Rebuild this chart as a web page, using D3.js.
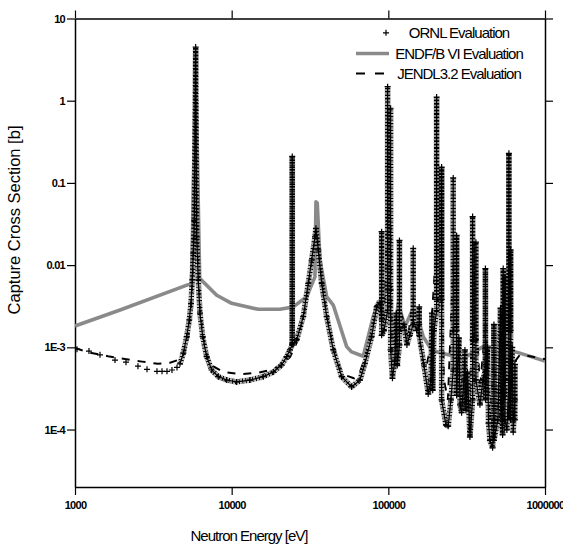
<!DOCTYPE html>
<html>
<head>
<meta charset="utf-8">
<script src="https://cdn.jsdelivr.net/npm/d3@7"></script>
<style>
  body { margin: 0; background: #fff; }
  svg { display: block; font-family: Arial, 'Liberation Sans', sans-serif; }
</style>
</head>
<body>
<svg id="chart" width="563" height="546"></svg>
<script>
const xTickValues = [1000, 10000, 100000, 1000000];  // Major energy ticks [eV].
const yTickValues = [10, 1, 0.1, 0.01, 1e-3, 1e-4];  // Major cross section ticks [b].
const yTickLabels = ['10', '1', '0.1', '0.01', '1E-3', '1E-4'];
const legendLabels = ['ORNL Evaluation', 'ENDF/B VI Evaluation', 'JENDL3.2 Evaluation'];

// ORNL points below the first resonance, shown as separate markers [E eV, xs b].
const ornlSparse = [[1030, 9.5e-4], [1228, 9.0e-4], [1444, 8.1e-4], [1800, 7.0e-4], [2116, 6.6e-4],
    [2523, 5.9e-4], [2881, 5.4e-4], [3337, 5.1e-4], [3592, 5.1e-4], [3865, 5.1e-4], [4159, 5.3e-4], [4477, 5.7e-4]];

// ORNL dense pointwise data, in energy order (resonance columns go up and back down).
const ornlTrace = [
    [4678, 6.3e-4], [4912, 8.5e-4], [5163, 1.35e-3], [5364, 2.15e-3], [5500, 3.4e-3], [5606, 6.6e-3],
    [5688, 0.014], [5772, 0.035], [5892, 4.5], [5980, 0.022], [6122, 6.6e-3], [6277, 2.6e-3],
    [6530, 1.35e-3], [6925, 7.7e-4], [7455, 5.3e-4], [8213, 4.4e-4], [9292, 4.0e-4], [10760, 3.8e-4],
    [13090, 4.0e-4], [15910, 4.4e-4], [18430, 5.0e-4], [20850, 6.1e-4], [22440, 7.7e-4], [23560, 9.3e-4],
    [24360, 1.07e-3], [24360, 0.21], [24360, 1.1e-3],
    [25990, 1.23e-3], [28640, 2.36e-3], [30830, 6.0e-3], [32400, 0.0115], [34010, 0.022], [34510, 0.028],
    [35710, 0.0153], [37540, 6.0e-3], [40400, 2.36e-3], [44510, 9.3e-4], [50350, 4.4e-4], [58320, 3.3e-4],
    [65910, 4.0e-4], [70920, 6.4e-4], [78250, 1.35e-3], [84220, 3.1e-3], [88410, 3.5e-3],
    [90640, 2.15e-3], [90640, 0.0255], [90640, 1.4e-3], [93760, 1.6e-3],
    [98970, 2.8e-3], [98970, 1.48], [98970, 5.0e-3],
    [103440, 5.0e-3], [103440, 0.81], [103440, 9.3e-4],
    [106220, 4.2e-4], [110180, 7.0e-4], [112500, 2.6e-3], [114000, 6.0e-4],
    [117730, 1.07e-3], [117730, 0.020], [117730, 1.6e-3],
    [125800, 1.9e-3], [131450, 1.07e-3], [137000, 1.4e-3],
    [144140, 1.9e-3], [144140, 0.016], [144140, 2.15e-3],
    [151530, 1.6e-3], [157450, 1.9e-3], [157450, 3.1e-3], [157450, 1.4e-3],
    [168720, 6.1e-4], [179720, 2.7e-4], [187000, 4.0e-4], [189750, 2.6e-3], [192000, 3.0e-4], [195400, 1.6e-3],
    [203340, 2.8e-3], [203340, 1.11], [203340, 3.8e-3],
    [218840, 3.8e-3], [218840, 0.156], [218840, 2.3e-4],
    [233110, 1.14e-4], [241110, 1.1e-4], [250890, 2.3e-4],
    [259500, 5.3e-4], [259500, 0.115], [259500, 1.6e-3],
    [272800, 1.6e-3], [272800, 0.023], [272800, 2.6e-4],
    [282000, 1.3e-3], [287000, 2.0e-4],
    [293600, 1.6e-4], [304000, 4.0e-4], [308200, 9.3e-4], [312800, 1.7e-4], [320000, 5.0e-4], [331700, 8.1e-5],
    [345150, 2.3e-4], [345150, 0.039], [345150, 1.23e-3],
    [362300, 1.23e-3], [362300, 0.019], [362300, 4.0e-4],
    [384300, 2.0e-4], [401700, 4.0e-4],
    [416600, 5.3e-4], [416600, 9.1e-3], [416600, 2.3e-4],
    [430000, 1.0e-3], [436000, 1.2e-4],
    [445100, 7.4e-5], [463100, 6.0e-5],
    [472000, 1.31e-4], [472000, 1.9e-3], [472000, 7.4e-5],
    [500600, 1.31e-4], [520000, 3.0e-3], [528000, 1.5e-4], [536300, 8.6e-5],
    [541000, 9.1e-3], [541000, 2.3e-4],
    [554800, 4.0e-4], [554800, 7.2e-3], [554800, 1.31e-4], [571000, 9.9e-5],
    [588300, 4.0e-4], [588300, 0.229], [588300, 1.6e-3],
    [603200, 1.6e-3], [603200, 0.0153], [603200, 1.31e-4], [618000, 1.0e-3], [626700, 9.3e-5],
    [642500, 2.3e-4], [642500, 6.2e-4], [642500, 1.31e-4]
];

// ENDF/B VI evaluation [E eV, xs b].
const endf = [[1000, 1.82e-3], [1940, 2.84e-3], [5550, 6.0e-3], [5890, 3.0], [6250, 6.9e-3], [8030, 4.3e-3],
    [10000, 3.43e-3], [14800, 2.9e-3], [20330, 2.9e-3], [24700, 3.1e-3], [30100, 4.13e-3], [34010, 7.2e-3],
    [34510, 0.059], [35180, 0.057], [36610, 0.0115], [40400, 4.13e-3], [44510, 3.27e-3], [54190, 1.02e-3],
    [58320, 8.8e-4], [69160, 7.8e-4], [80120, 2.36e-3], [86220, 3.6e-3], [92390, 3.76e-3], [99860, 6.2e-3],
    [107480, 1.12e-3], [115680, 3.43e-3], [127640, 1.78e-3], [140800, 2.71e-3], [151530, 2.63e-3],
    [166990, 1.35e-3], [188930, 9.3e-4], [213450, 8.6e-4], [300600, 7.35e-4], [403400, 1.02e-3],
    [515500, 9.9e-4], [691500, 8.5e-4], [1000000, 6.8e-4]];

// JENDL-3.2 evaluation [E eV, xs b].
const jendl = [[1000, 9.8e-4], [1247, 8.6e-4], [1624, 7.8e-4], [2085, 7.2e-4], [2677, 6.7e-4], [3386, 6.3e-4],
    [4040, 6.5e-4], [4543, 7.0e-4], [4963, 8.3e-4], [5262, 1.23e-3], [5500, 2.84e-3], [5663, 8.7e-3],
    [5832, 0.58], [5892, 4.1], [5963, 0.25], [6095, 0.0115], [6277, 3.3e-3], [6558, 1.41e-3], [6955, 8.1e-4],
    [7600, 5.9e-4], [8800, 5.05e-4], [11300, 4.7e-4], [14720, 4.9e-4], [17560, 5.3e-4], [20330, 5.9e-4],
    [23560, 7.6e-4], [26490, 1.23e-3], [29370, 2.84e-3], [31600, 7.6e-3], [33510, 0.0176], [34510, 0.028],
    [35810, 0.0176], [37700, 6.6e-3], [40570, 2.47e-3], [44320, 1.07e-3], [49110, 5.6e-4], [54430, 4.5e-4],
    [60330, 4.2e-4], [65910, 5.0e-4], [71960, 8.1e-4], [78600, 1.62e-3], [84580, 3.0e-3], [90640, 3.5e-3],
    [93760, 2.0e-3], [98970, 0.05], [100880, 3.0e-3], [103440, 0.03], [105440, 7.0e-4], [110180, 6.1e-4],
    [117730, 3.0e-3], [125800, 2.0e-3], [133400, 1.3e-3], [144140, 4.0e-3], [154460, 1.6e-3],
    [166260, 6.6e-4], [173780, 5.6e-4], [184280, 9.3e-4], [203340, 0.02], [210340, 3.0e-3], [218840, 0.01],
    [226360, 4.0e-4], [240060, 2.3e-4], [259500, 0.01], [272800, 3.0e-3], [290600, 2.3e-4], [312800, 3.0e-4],
    [331700, 1.73e-4], [345150, 5.0e-3], [362300, 3.0e-3], [384300, 3.0e-4], [416600, 2.0e-3],
    [445100, 1.31e-4], [472000, 8.0e-4], [500600, 1.73e-4], [541000, 2.0e-3], [563000, 2.3e-4],
    [588300, 0.01], [605900, 2.0e-3], [633100, 2.3e-4], [652100, 7.0e-4], [691500, 8.1e-4],
    [801000, 7.8e-4], [1000000, 7.2e-4]];

const margin = { left: 75, right: 18, top: 18.5, bottom: 59 };  // Plot frame inside the 563x546 window.
const size = { width: 563, height: 546 };
const plusPath = 'M-3,0H3M0,-3V3';  // ORNL '+' marker.

function initChart() {
    const svg = d3.select('#chart');
    svg.append('rect').attr('width', size.width).attr('height', size.height).attr('fill', '#fff');

    const xScale = d3.scaleLog()
        .domain([1000, 1e6])
        .range([margin.left, size.width - margin.right]);
    const yScale = d3.scaleLog()
        .domain([2e-5, 10])
        .range([size.height - margin.bottom, margin.top]);

    const x0 = margin.left, x1 = size.width - margin.right;
    const y0 = size.height - margin.bottom, y1 = margin.top;

    const xMinor = xScale.ticks().filter(v => !xTickValues.includes(v));
    const yMinor = yScale.ticks().filter(v => !yTickValues.includes(v));

    // helper: draw one side of the frame (minor + major ticks)
    function side(axisFn, scale, majors, minors, transform, labels) {
        const g = svg.append('g').attr('transform', transform);
        g.call(axisFn(scale).tickValues(minors).tickSize(4.5).tickSizeOuter(0).tickFormat(''));
        g.call(axisFn(scale).tickValues(majors).tickSize(8).tickSizeOuter(0)
            .tickFormat(labels ? (d, i) => labels[i] : ''));
        g.selectAll('.domain').attr('stroke', '#000').attr('stroke-width', 1.5);
        g.selectAll('.tick line').attr('stroke', '#000').attr('stroke-width', 1.2);
        return g;
    }

    const xAxis = side(d3.axisBottom, xScale, xTickValues, xMinor, `translate(0,${y0})`, xTickValues.map(String));
    xAxis.selectAll('.tick text')
        .attr('y', 14).attr('dy', '0.71em')
        .attr('font-size', 11).attr('font-weight', 'bold').attr('letter-spacing', '-0.7px')
        .attr('font-family', 'Arial, Liberation Sans, sans-serif').attr('fill', '#000');

    const yAxis = side(d3.axisLeft, yScale, yTickValues, yMinor, `translate(${x0},0)`, yTickLabels);
    yAxis.selectAll('.tick text')
        .attr('x', -10)
        .attr('font-size', 11).attr('font-weight', 'bold').attr('letter-spacing', '-0.7px')
        .attr('font-family', 'Arial, Liberation Sans, sans-serif').attr('fill', '#000');

    side(d3.axisTop, xScale, xTickValues, xMinor, `translate(0,${y1})`, null);
    side(d3.axisRight, yScale, yTickValues, yMinor, `translate(${x1},0)`, null);

    // clip for the data
    svg.append('clipPath').attr('id', 'plot-clip')
        .append('rect').attr('x', x0).attr('y', y1).attr('width', x1 - x0).attr('height', y0 - y1);
    const plot = svg.append('g').attr('clip-path', 'url(#plot-clip)');

    const line = d3.line()
        .x(d => xScale(d[0]))
        .y(d => yScale(d[1]));

    plot.append('path')  // ENDF/B VI, thick grey.
        .datum(endf)
        .attr('d', line)
        .attr('fill', 'none')
        .attr('stroke', '#8a8a8a')
        .attr('stroke-width', 3.6)
        .attr('stroke-linejoin', 'round');

    plot.append('path')  // JENDL-3.2, black dashes.
        .datum(jendl)
        .attr('d', line)
        .attr('fill', 'none')
        .attr('stroke', '#000')
        .attr('stroke-width', 2)
        .attr('stroke-dasharray', '8 8');

    // ORNL dense points: grey fringe, thin trace and short crossing bars = stacked '+' markers
    plot.append('path')
        .datum(ornlTrace)
        .attr('d', line)
        .attr('fill', 'none')
        .attr('stroke', '#999')
        .attr('stroke-width', 5.8)
        .attr('stroke-linejoin', 'bevel')
        .attr('stroke-dasharray', '1.2 2.2')
        .attr('stroke-dashoffset', 1.7);
    plot.append('path')
        .datum(ornlTrace)
        .attr('d', line)
        .attr('fill', 'none')
        .attr('stroke', '#000')
        .attr('stroke-width', 1.2);
    plot.append('path')
        .datum(ornlTrace)
        .attr('d', line)
        .attr('fill', 'none')
        .attr('stroke', '#000')
        .attr('stroke-width', 5.4)
        .attr('stroke-linejoin', 'bevel')
        .attr('stroke-dasharray', '1.2 2.2');

    plot.append('g')
        .selectAll('path')
        .data(ornlSparse.concat(ornlTrace))
        .join('path')
        .attr('d', plusPath)
        .attr('transform', d => `translate(${xScale(d[0])},${yScale(d[1])})`)
        .attr('stroke', '#000')
        .attr('stroke-width', 1.2)
        .attr('fill', 'none');

    // axis titles
    svg.append('text')
        .attr('transform', `translate(20, 220) rotate(-90)`)
        .style('text-anchor', 'middle')
        .style('font-size', '16.5px')
        .text('Capture Cross Section [b]');

    svg.append('text')
        .attr('x', 249).attr('y', 541)
        .style('text-anchor', 'middle')
        .style('font-size', '15px')
        .style('letter-spacing', '-1px')
        .text('Neutron Energy [eV]');

    // legend
    const legend = svg.append('g');
    const rowY = [32.8, 53.5, 73.5];
    legend.append('path').attr('d', plusPath)
        .attr('transform', `translate(386,${rowY[0]})`)
        .attr('stroke', '#000').attr('stroke-width', 1.2);
    legend.append('line')
        .attr('x1', 356).attr('x2', 389).attr('y1', rowY[1]).attr('y2', rowY[1])
        .attr('stroke', '#8a8a8a').attr('stroke-width', 3.6);
    legend.append('line')
        .attr('x1', 356).attr('x2', 386).attr('y1', rowY[2]).attr('y2', rowY[2])
        .attr('stroke', '#000').attr('stroke-width', 2).attr('stroke-dasharray', '9 10');
    legend.selectAll('text.lab')
        .data(legendLabels)
        .join('text')
        .attr('class', 'lab')
        .attr('x', 459)
        .attr('y', (d, i) => rowY[i] + 5.5)
        .style('text-anchor', 'middle')
        .style('font-size', '15px')
        .style('letter-spacing', '-1px')
        .text(d => d);
}

initChart();
</script>
</body>
</html>
